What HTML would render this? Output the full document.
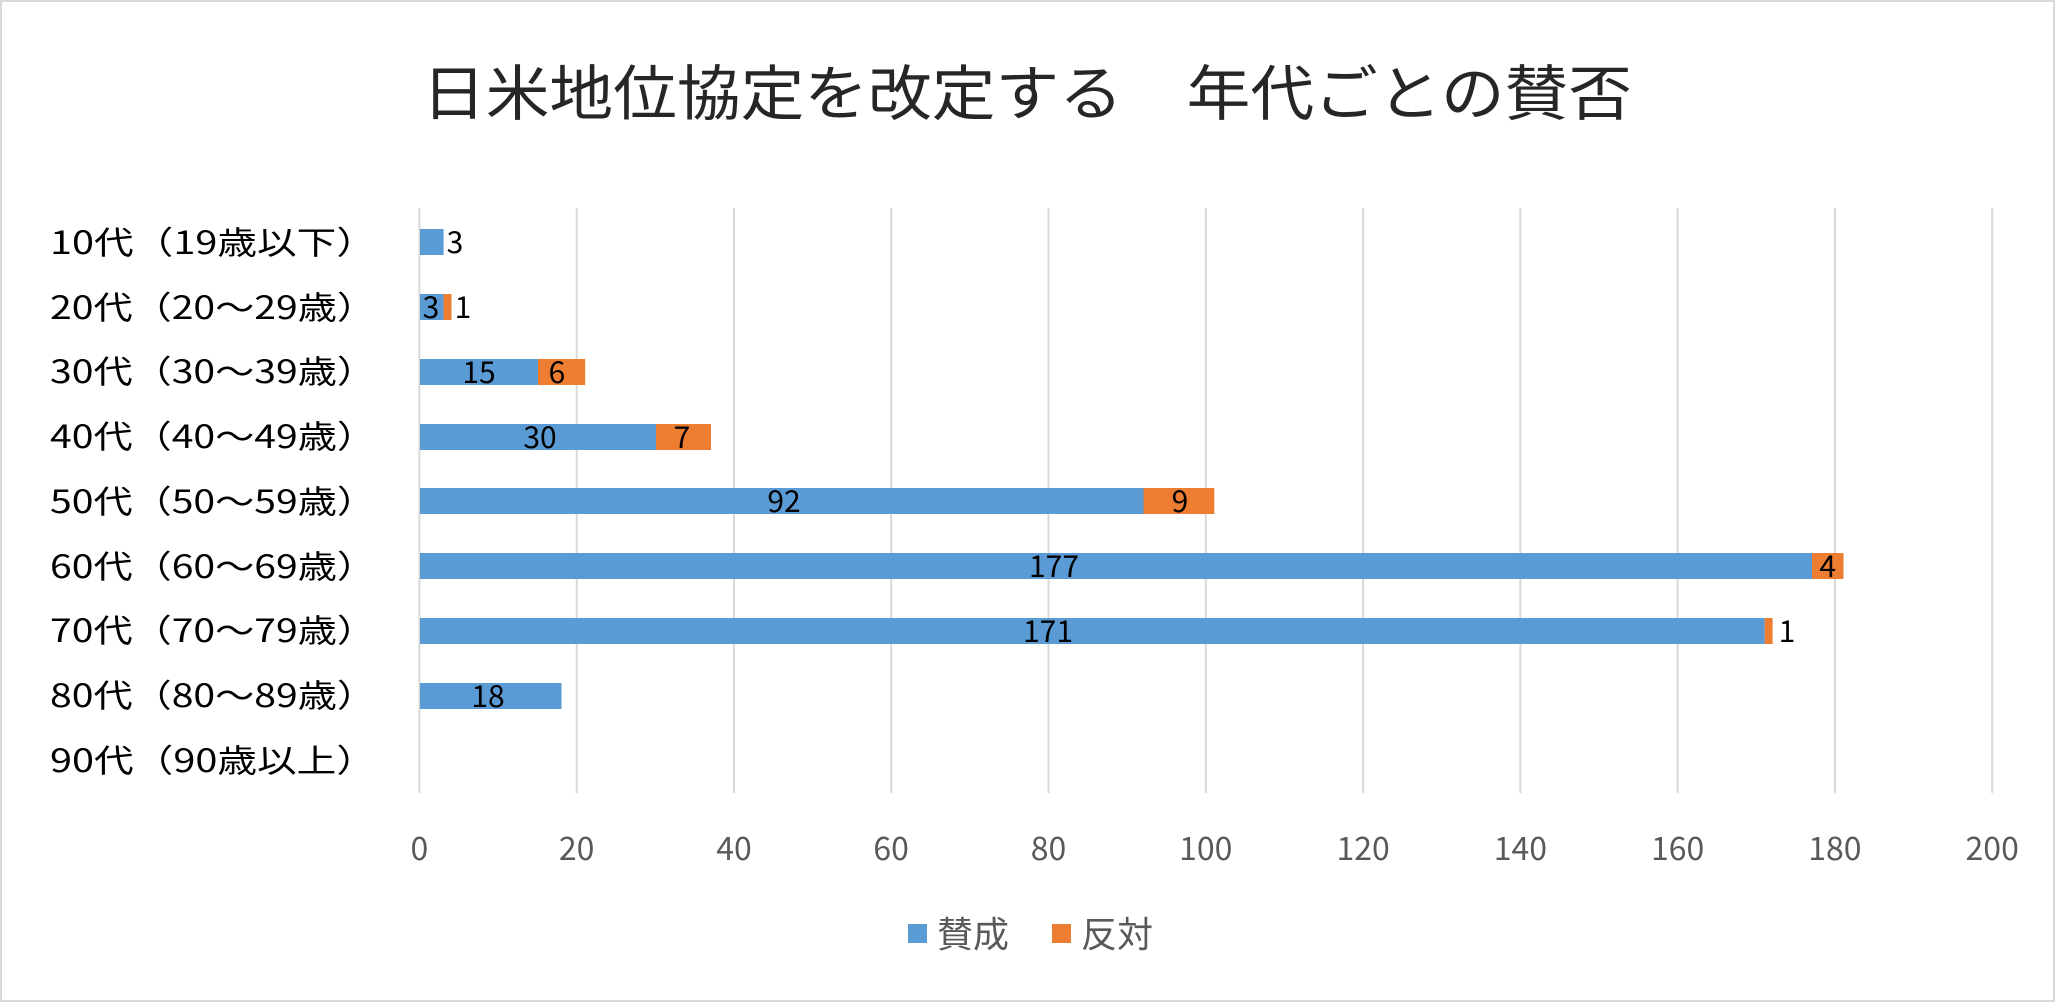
<!DOCTYPE html>
<html><head><meta charset="utf-8"><style>
html,body{margin:0;padding:0;background:#fff;}
svg{display:block;font-family:"Noto Sans CJK JP","Liberation Sans",sans-serif;}
</style></head><body>
<svg width="2055" height="1002" viewBox="0 0 2055 1002" xmlns="http://www.w3.org/2000/svg">
<rect x="1" y="1" width="2053" height="1000" fill="#fff" stroke="#d9d9d9" stroke-width="2"/>
<text x="1027" y="115" font-size="60" text-anchor="middle" fill="#262626" textLength="1210" lengthAdjust="spacingAndGlyphs">日米地位協定を改定する　年代ごとの賛否</text>
<g stroke="#d9d9d9" stroke-width="2">
<line x1="419.4" y1="208" x2="419.4" y2="793"/>
<line x1="576.7" y1="208" x2="576.7" y2="793"/>
<line x1="734" y1="208" x2="734" y2="793"/>
<line x1="891.2" y1="208" x2="891.2" y2="793"/>
<line x1="1048.5" y1="208" x2="1048.5" y2="793"/>
<line x1="1205.8" y1="208" x2="1205.8" y2="793"/>
<line x1="1363.1" y1="208" x2="1363.1" y2="793"/>
<line x1="1520.4" y1="208" x2="1520.4" y2="793"/>
<line x1="1677.6" y1="208" x2="1677.6" y2="793"/>
<line x1="1834.9" y1="208" x2="1834.9" y2="793"/>
<line x1="1992.2" y1="208" x2="1992.2" y2="793"/>
</g>
<g font-size="32" fill="#595959" text-anchor="middle">
<text x="419.4" y="860">0</text><text x="576.7" y="860">20</text><text x="734" y="860">40</text><text x="891.2" y="860">60</text><text x="1048.5" y="860">80</text><text x="1205.8" y="860">100</text><text x="1363.1" y="860">120</text><text x="1520.4" y="860">140</text><text x="1677.6" y="860">160</text><text x="1834.9" y="860">180</text><text x="1992.2" y="860">200</text>
</g>
<g font-size="32" fill="#000">
<text x="50" y="254" textLength="326" lengthAdjust="spacingAndGlyphs">10代（19歳以下）</text>
<text x="50" y="319" textLength="326" lengthAdjust="spacingAndGlyphs">20代（20～29歳）</text>
<text x="50" y="383" textLength="326" lengthAdjust="spacingAndGlyphs">30代（30～39歳）</text>
<text x="50" y="448" textLength="326" lengthAdjust="spacingAndGlyphs">40代（40～49歳）</text>
<text x="50" y="513" textLength="326" lengthAdjust="spacingAndGlyphs">50代（50～59歳）</text>
<text x="50" y="578" textLength="326" lengthAdjust="spacingAndGlyphs">60代（60～69歳）</text>
<text x="50" y="642" textLength="326" lengthAdjust="spacingAndGlyphs">70代（70～79歳）</text>
<text x="50" y="707" textLength="326" lengthAdjust="spacingAndGlyphs">80代（80～89歳）</text>
<text x="50" y="772" textLength="326" lengthAdjust="spacingAndGlyphs">90代（90歳以上）</text>
</g>
<g fill="#5B9BD5">
<rect x="420" y="229" width="23.6" height="26"/>
<rect x="420" y="294" width="23.6" height="26"/>
<rect x="420" y="359" width="118" height="26"/>
<rect x="420" y="424" width="236" height="26"/>
<rect x="420" y="488" width="723.5" height="26"/>
<rect x="420" y="553" width="1392" height="26"/>
<rect x="420" y="618" width="1344.7" height="26"/>
<rect x="420" y="683" width="141.5" height="26"/>
</g>
<g fill="#ED7D31">
<rect x="443.6" y="294" width="7.9" height="26"/>
<rect x="538" y="359" width="47.2" height="26"/>
<rect x="656" y="424" width="55" height="26"/>
<rect x="1143.5" y="488" width="70.8" height="26"/>
<rect x="1812" y="553" width="31.5" height="26"/>
<rect x="1764.7" y="618" width="7.9" height="26"/>
</g>
<g font-size="30" fill="#000" text-anchor="middle">
<text x="455" y="253">3</text>
<text x="431" y="318">3</text><text x="463" y="318">1</text>
<text x="479" y="383">15</text><text x="557" y="383">6</text>
<text x="540" y="448">30</text><text x="682" y="448">7</text>
<text x="784" y="512">92</text><text x="1180" y="512">9</text>
<text x="1054" y="577">177</text><text x="1827.7" y="577">4</text>
<text x="1048" y="642">171</text><text x="1787" y="642">1</text>
<text x="488" y="707">18</text>
</g>
<rect x="908" y="924" width="19" height="19" fill="#5B9BD5"/>
<text x="937" y="947" font-size="36" fill="#595959">賛成</text>
<rect x="1052" y="924" width="19" height="19" fill="#ED7D31"/>
<text x="1081" y="947" font-size="36" fill="#595959">反対</text>
</svg>
</body></html>
